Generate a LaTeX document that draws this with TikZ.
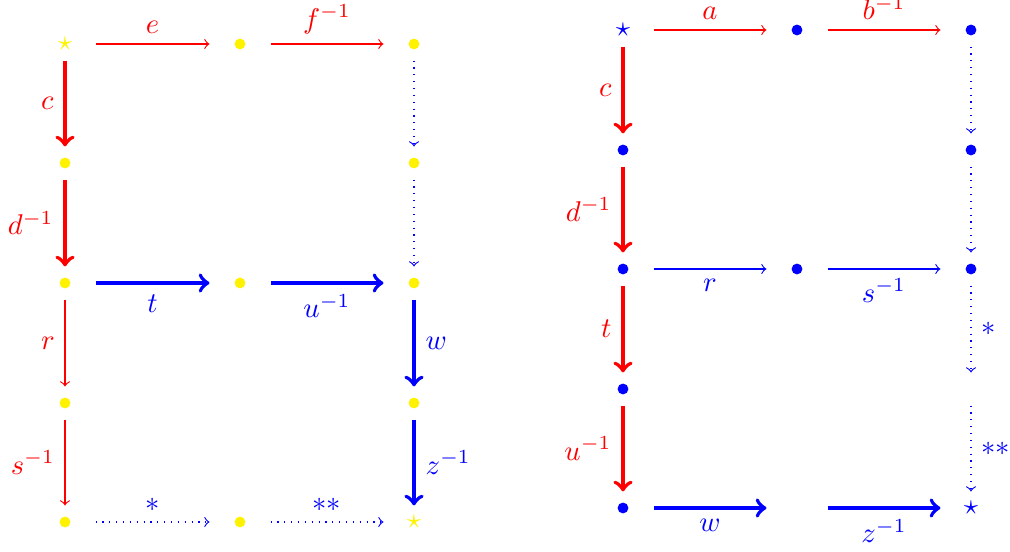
\documentclass[tikz,border=0pt]{standalone}
\begin{document}
\begin{tikzpicture}[x=0.35pt,y=-0.35pt,
  v/.style={inner sep=0pt, minimum width=21pt, minimum height=11.2pt},
  yd/.style={v, path picture={\fill[yellow] (path picture bounding box.center) circle (1.9pt);}},
  bd/.style={v, path picture={\fill[blue] (path picture bounding box.center) circle (1.9pt);}},
  ys/.style={v, text=yellow},
  bs/.style={v, text=blue},
  thinr/.style={->, red},
  thickr/.style={->, red, line width=1.4pt},
  thinb/.style={->, blue},
  thickb/.style={->, blue, line width=1.4pt},
  dotb/.style={->, blue, dotted},
  lr/.style={text=red},
  lb/.style={text=blue}
]
\useasboundingbox (0,0) rectangle (1010,552);
% left grid
\node[ys] (L11) at (65,44) {$\star$};
\node[yd] (L12) at (240,44) {};
\node[yd] (L13) at (414,44) {};
\node[yd] (L21) at (65,163) {};
\node[yd] (L23) at (414,163) {};
\node[yd] (L31) at (65,283) {};
\node[yd] (L32) at (240,283) {};
\node[yd] (L33) at (414,283) {};
\node[yd] (L41) at (65,403) {};
\node[yd] (L43) at (414,403) {};
\node[yd] (L51) at (65,522) {};
\node[yd] (L52) at (240,522) {};
\node[ys] (L53) at (414,522) {$\star$};

\draw[thinr] (L11) -- node[above,lr] {$e$} (L12);
\draw[thinr] (L12) -- node[above,lr] {$f^{-1}$} (L13);
\draw[thickr] (L11) -- node[left,lr] {$c$} (L21);
\draw[thickr] (L21) -- node[left,lr] {$d^{-1}$} (L31);
\draw[thinr] (L31) -- node[left,lr] {$r$} (L41);
\draw[thinr] (L41) -- node[left,lr] {$s^{-1}$} (L51);
\draw[dotb] (L13) -- (L23);
\draw[dotb] (L23) -- (L33);
\draw[thickb] (L31) -- node[below,lb] {$t$} (L32);
\draw[thickb] (L32) -- node[below,lb] {$u^{-1}$} (L33);
\draw[thickb] (L33) -- node[right,lb] {$w$} (L43);
\draw[thickb] (L43) -- node[right,lb] {$z^{-1}$} (L53);
\draw[dotb] (L51) -- node[above,lb] {$*$} (L52);
\draw[dotb] (L52) -- node[above,lb] {$**$} (L53);

% right grid
\node[bs] (R11) at (623,30) {$\star$};
\node[bd] (R12) at (797,30) {};
\node[bd] (R13) at (971,30) {};
\node[bd] (R21) at (623,150) {};
\node[bd] (R23) at (971,150) {};
\node[bd] (R31) at (623,269) {};
\node[bd] (R32) at (797,269) {};
\node[bd] (R33) at (971,269) {};
\node[bd] (R41) at (623,389) {};
\node[v] (R43) at (971,389) {};
\node[bd] (R51) at (623,508) {};
\node[v] (R52) at (797,508) {};
\node[bs] (R53) at (971,508) {$\star$};

\draw[thinr] (R11) -- node[above,lr] {$a$} (R12);
\draw[thinr] (R12) -- node[above,lr] {$b^{-1}$} (R13);
\draw[thickr] (R11) -- node[left,lr] {$c$} (R21);
\draw[thickr] (R21) -- node[left,lr] {$d^{-1}$} (R31);
\draw[thickr] (R31) -- node[left,lr] {$t$} (R41);
\draw[thickr] (R41) -- node[left,lr] {$u^{-1}$} (R51);
\draw[dotb] (R13) -- (R23);
\draw[dotb] (R23) -- (R33);
\draw[thinb] (R31) -- node[below,lb] {$r$} (R32);
\draw[thinb] (R32) -- node[below,lb] {$s^{-1}$} (R33);
\draw[dotb] (R33) -- node[right,lb] {$*$} (R43);
\draw[dotb] (R43) -- node[right,lb] {$**$} (R53);
\draw[thickb] (R51) -- node[below,lb] {$w$} (R52);
\draw[thickb] (R52) -- node[below,lb] {$z^{-1}$} (R53);
\end{tikzpicture}
\end{document}
